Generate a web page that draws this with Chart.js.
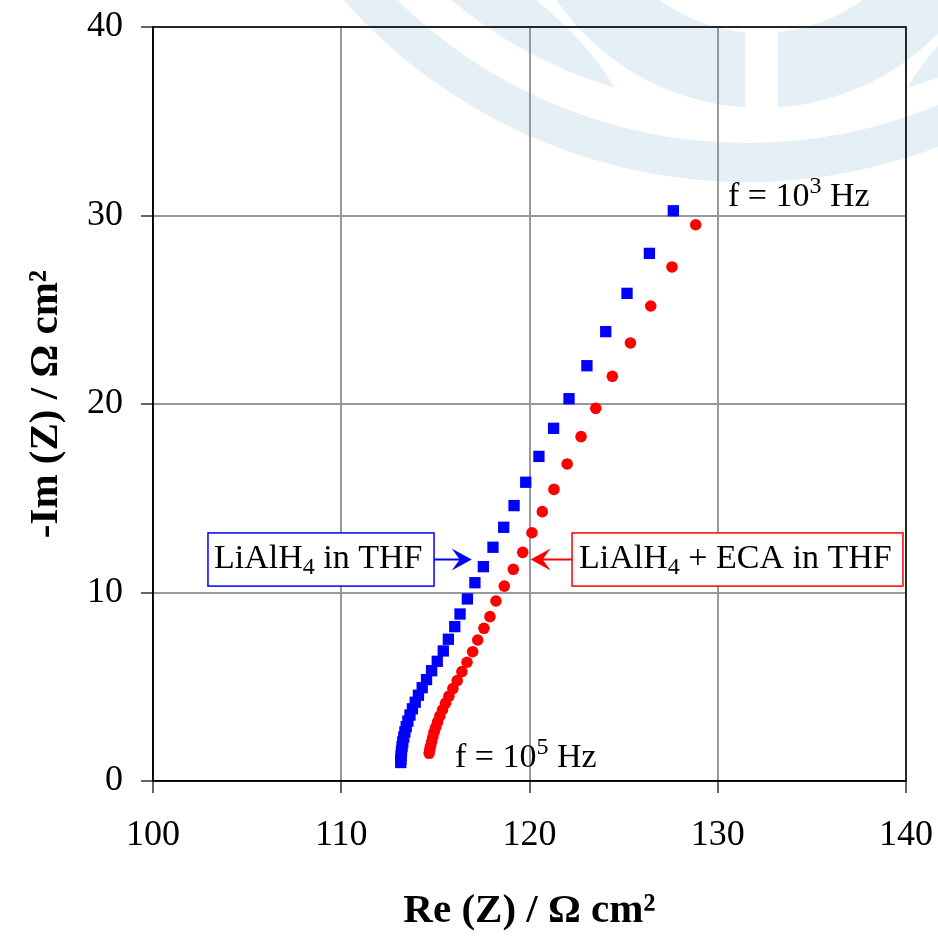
<!DOCTYPE html>
<html>
<head>
<meta charset="utf-8">
<script src="https://cdn.jsdelivr.net/npm/chart.js@4.4.1/dist/chart.umd.min.js"></script>
<style>
  html, body { margin: 0; padding: 0; background: #fff; }
  #nyquist { display: block; }
</style>
</head>
<body>
<canvas id="nyquist" width="938" height="937"></canvas>
<script>
// Nyquist plot, LiAlH4 in THF with and without ECA
const xTicks = [100, 110, 120, 130, 140];
const yTicks = [0, 10, 20, 30, 40];

// LiAlH4 in THF (squares)
const reBlue = [127.64, 126.37, 125.18, 124.05, 123.05, 122.10, 121.28, 120.50, 119.80, 119.18,
  118.63, 118.06, 117.55, 117.10, 116.70, 116.31, 116.03, 115.69, 115.42, 115.10,
  114.80, 114.53, 114.30, 114.10, 113.93, 113.78, 113.65, 113.54, 113.45, 113.38,
  113.32, 113.27, 113.23, 113.20, 113.18, 113.17, 113.16];
const imBlue = [30.25, 27.99, 25.87, 23.84, 22.03, 20.28, 18.71, 17.22, 15.85, 14.61,
  13.46, 12.40, 11.37, 10.52, 9.66, 8.86, 8.19, 7.52, 6.90, 6.35,
  5.85, 5.38, 4.95, 4.55, 4.18, 3.83, 3.50, 3.18, 2.88, 2.60,
  2.33, 2.07, 1.82, 1.58, 1.36, 1.16, 0.98];

// LiAlH4 + ECA in THF (circles)
const reRed = [128.83, 127.57, 126.44, 125.36, 124.40, 123.52, 122.74, 122.00, 121.30, 120.68,
  120.13, 119.64, 119.14, 118.66, 118.22, 117.90, 117.58, 117.25, 116.98, 116.68,
  116.41, 116.16, 115.93, 115.72, 115.54, 115.38, 115.24, 115.12, 115.02, 114.93,
  114.86, 114.80, 114.74, 114.70, 114.67];
const imRed = [29.51, 27.27, 25.20, 23.24, 21.47, 19.77, 18.27, 16.82, 15.47, 14.29,
  13.17, 12.13, 11.23, 10.34, 9.55, 8.72, 8.10, 7.48, 6.86, 6.30,
  5.80, 5.33, 4.90, 4.50, 4.13, 3.78, 3.45, 3.14, 2.85, 2.58,
  2.32, 2.08, 1.85, 1.65, 1.47];

const serif = "'Liberation Serif', 'Times New Roman', serif";
const toPoints = (xs, ys) => xs.map((x, i) => ({ x: x, y: ys[i] }));

// text with sub/superscript pieces, left aligned on baseline
function richText(ctx, x, y, parts, size) {
  let cx = x;
  ctx.textAlign = 'left';
  ctx.textBaseline = 'alphabetic';
  for (const p of parts) {
    const s = (p.sub || p.sup) ? Math.round(size * 0.7) : size;
    ctx.font = s + 'px ' + serif;
    const dy = p.sub ? size * 0.2 : (p.sup ? -size * 0.38 : 0);
    ctx.fillText(p.t, cx, y + dy);
    cx += ctx.measureText(p.t).width;
  }
}

function arrow(ctx, x0, y, tip, color) {
  const dir = Math.sign(tip - x0);
  ctx.strokeStyle = color;
  ctx.fillStyle = color;
  ctx.lineWidth = 2;
  ctx.beginPath();
  ctx.moveTo(x0, y);
  ctx.lineTo(tip - dir * 10, y);
  ctx.stroke();
  ctx.beginPath();
  ctx.moveTo(tip, y);
  ctx.lineTo(tip - dir * 20, y - 11);
  ctx.lineTo(tip - dir * 12, y);
  ctx.lineTo(tip - dir * 20, y + 11);
  ctx.closePath();
  ctx.fill();
}

// faint logo behind the plot
const backdrop = {
  id: 'backdrop',
  beforeDraw(chart) {
    const ctx = chart.ctx;
    ctx.save();
    ctx.fillStyle = '#fff';
    ctx.fillRect(0, 0, chart.width, chart.height);
    ctx.fillStyle = '#e4eff6';
    // outer ring
    ctx.beginPath();
    ctx.arc(747, -356, 538, 0, Math.PI * 2);
    ctx.arc(747, -356, 499, 0, Math.PI * 2, true);
    ctx.fill();
    // left and right crescents
    for (const m of [1, -1]) {
      const cx = m === 1 ? 747 : 775;
      ctx.beginPath();
      ctx.moveTo(761 - m * 309, -4);
      ctx.arc(cx, -356, 463, Math.atan2(356, -m * 295), Math.atan2(446, -m * 133), m === 1);
      ctx.quadraticCurveTo(761 - m * 176, 38, 761 - m * 230, -4);
      ctx.closePath();
      ctx.fill();
    }
    // inner ring with the vertical gap
    ctx.beginPath();
    ctx.arc(761, -140, 248, 0, Math.PI * 2);
    ctx.arc(761, -140, 173, 0, Math.PI * 2, true);
    ctx.fill();
    ctx.fillStyle = '#fff';
    ctx.fillRect(745, 20, 33, 92);
    ctx.restore();
  }
};

// frame and the labels drawn over the plot
const overlay = {
  id: 'overlay',
  afterDraw(chart) {
    const ctx = chart.ctx;
    const a = chart.chartArea;
    const xs = chart.scales.x, ys = chart.scales.y;
    ctx.save();
    ctx.strokeStyle = '#000';
    ctx.lineWidth = 1.5;
    ctx.strokeRect(a.left, a.top, a.right - a.left, a.bottom - a.top);

    const top = ys.getPixelForValue(13.16), bot = ys.getPixelForValue(10.34);
    const mid = (top + bot) / 2;

    // LiAlH4 in THF
    let l = xs.getPixelForValue(102.92), r = xs.getPixelForValue(114.93);
    ctx.fillStyle = '#fff';
    ctx.fillRect(l, top, r - l, bot - top);
    ctx.strokeStyle = '#0000ff';
    ctx.lineWidth = 1.5;
    ctx.strokeRect(l, top, r - l, bot - top);
    ctx.fillStyle = '#000';
    richText(ctx, l + 6, mid + 8, [{ t: 'LiAlH' }, { t: '4', sub: true }, { t: ' in THF' }], 34);
    arrow(ctx, r, mid, xs.getPixelForValue(116.93), '#0000ff');

    // LiAlH4 + ECA in THF
    l = xs.getPixelForValue(122.26); r = xs.getPixelForValue(139.84);
    ctx.fillStyle = '#fff';
    ctx.fillRect(l, top, r - l, bot - top);
    ctx.strokeStyle = '#ff0000';
    ctx.lineWidth = 1.5;
    ctx.strokeRect(l, top, r - l, bot - top);
    ctx.fillStyle = '#000';
    richText(ctx, l + 7, mid + 8, [{ t: 'LiAlH' }, { t: '4', sub: true }, { t: ' + ECA in THF' }], 34);
    arrow(ctx, l, mid, xs.getPixelForValue(120.06), '#ff0000');

    // frequency marks
    ctx.fillStyle = '#000';
    richText(ctx, xs.getPixelForValue(130.54), ys.getPixelForValue(30.5),
      [{ t: 'f = 10' }, { t: '3', sup: true }, { t: ' Hz' }], 34);
    richText(ctx, xs.getPixelForValue(116.04), ys.getPixelForValue(0.74),
      [{ t: 'f = 10' }, { t: '5', sup: true }, { t: ' Hz' }], 34);
    ctx.restore();
  }
};

new Chart(document.getElementById('nyquist'), {
  type: 'scatter',
  data: {
    datasets: [
      {
        label: 'LiAlH4 in THF',
        data: toPoints(reBlue, imBlue),
        pointStyle: 'rect',
        pointRadius: 8,
        backgroundColor: '#0000ff',
        borderWidth: 0
      },
      {
        label: 'LiAlH4 + ECA in THF',
        data: toPoints(reRed, imRed),
        pointStyle: 'circle',
        pointRadius: 5.8,
        backgroundColor: '#ff0000',
        borderWidth: 0
      }
    ]
  },
  options: {
    responsive: false,
    animation: false,
    devicePixelRatio: 1,
    layout: { padding: { top: 27, right: 32, left: 0, bottom: 0 } },
    scales: {
      x: {
        type: 'linear',
        min: 100,
        max: 140,
        afterBuildTicks: s => { s.ticks = xTicks.map(v => ({ value: v })); },
        afterFit: s => { s.height = 156; s.paddingLeft = 0; s.paddingRight = 0; },
        grid: { color: '#999', lineWidth: 2, tickColor: '#333', tickLength: 12, tickWidth: 1.5 },
        border: { color: '#000', width: 1.5 },
        ticks: { color: '#000', padding: 21, maxRotation: 0, font: { family: serif, size: 36 } },
        title: {
          display: true,
          text: 'Re (Z) / Ω cm²',
          color: '#000',
          padding: { top: 0, bottom: 1 },
          font: { family: serif, size: 41, weight: 'bold' }
        }
      },
      y: {
        type: 'linear',
        min: 0,
        max: 40,
        afterBuildTicks: s => { s.ticks = yTicks.map(v => ({ value: v })); },
        afterFit: s => { s.width = 153; s.paddingTop = 0; s.paddingBottom = 0; },
        grid: { color: '#999', lineWidth: 2, tickColor: '#333', tickLength: 12, tickWidth: 1.5 },
        border: { color: '#000', width: 1.5 },
        ticks: { color: '#000', padding: 18, font: { family: serif, size: 36 } },
        title: {
          display: true,
          text: '-Im (Z) / Ω cm²',
          color: '#000',
          padding: { top: 22, bottom: 0 },
          font: { family: serif, size: 41, weight: 'bold' }
        }
      }
    },
    plugins: {
      legend: { display: false },
      tooltip: { enabled: false }
    }
  },
  plugins: [backdrop, overlay]
});
</script>
</body>
</html>
